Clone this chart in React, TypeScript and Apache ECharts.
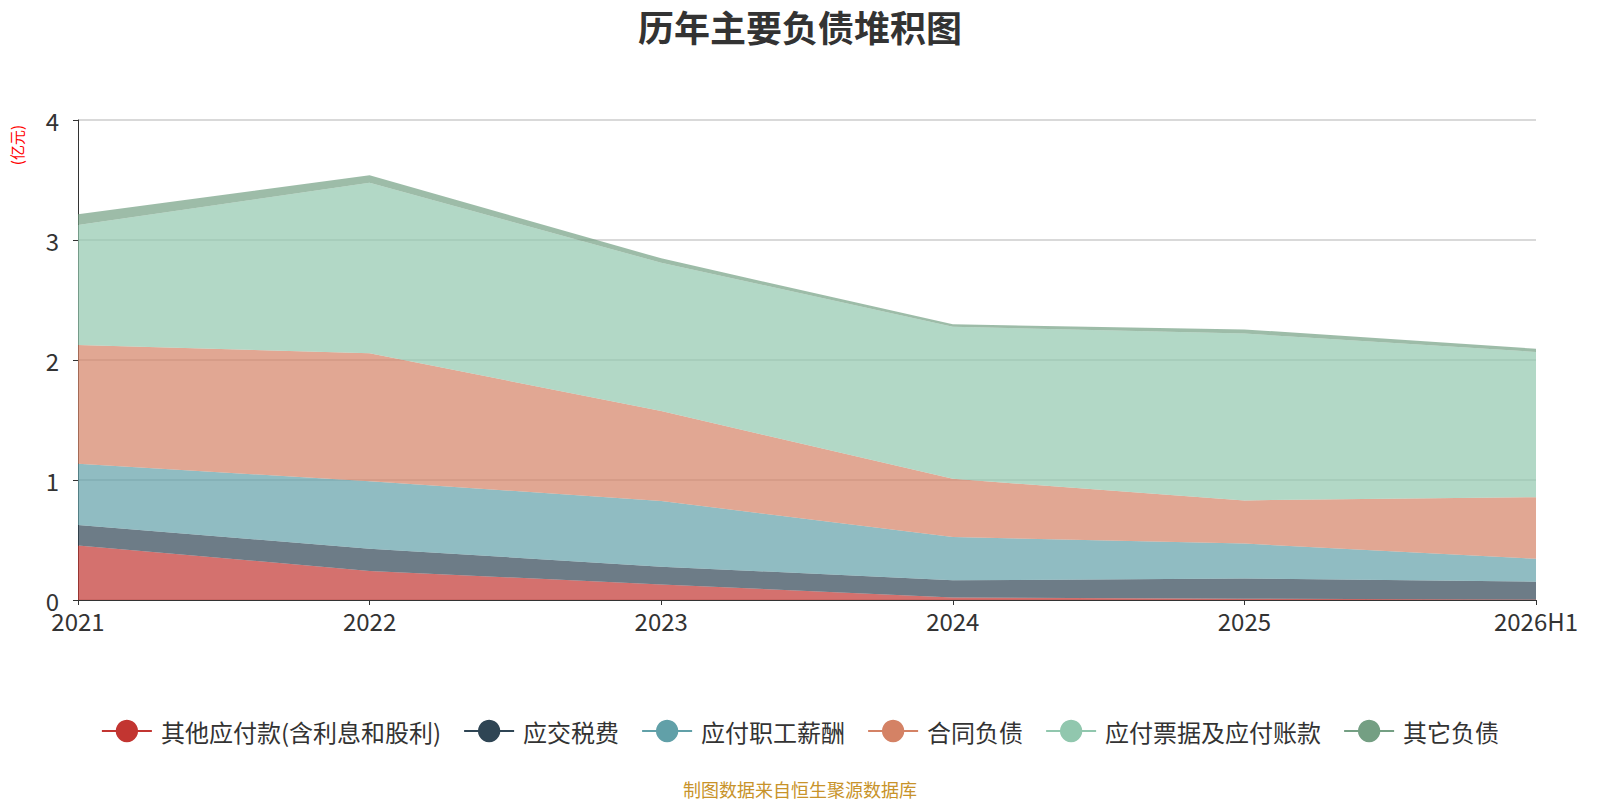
import React, { useEffect, useRef } from "react";
import * as echarts from "echarts";

const categories = ["2021", "2022", "2023", "2024", "2025", "2026H1"];
const seriesNames = [
  "其他应付款(含利息和股利)",
  "应交税费",
  "应付职工薪酬",
  "合同负债",
  "应付票据及应付账款",
  "其它负债",
];
const otherPayables = [0.455, 0.242, 0.13, 0.02, 0.01, 0.005];
const taxesPayable = [0.17, 0.186, 0.148, 0.144, 0.17, 0.148];
const payrollPayable = [0.51, 0.562, 0.547, 0.361, 0.29, 0.19];
const contractLiabilities = [0.99, 1.066, 0.75, 0.485, 0.36, 0.514];
const notesAccountsPayable = [1.0, 1.422, 1.235, 1.268, 1.39, 1.21];
const otherLiabilities = [0.09, 0.062, 0.037, 0.019, 0.035, 0.027];
const yTicks = [0, 1, 2, 3, 4];
const colors = ["#c23531", "#2f4554", "#61a0a8", "#d48265", "#91c7ae", "#749f83"];

const FONT = '"Noto Sans CJK SC", "Noto Sans", sans-serif';

export default function App() {
  const ref = useRef<HTMLDivElement>(null);
  useEffect(() => {
    if (!ref.current) return;
    const chart = echarts.init(ref.current, null, { renderer: "svg" });
    const values = [
      otherPayables,
      taxesPayable,
      payrollPayable,
      contractLiabilities,
      notesAccountsPayable,
      otherLiabilities,
    ];
    chart.setOption({
      animation: false,
      color: colors,
      textStyle: { fontFamily: FONT },
      title: {
        text: "历年主要负债堆积图",
        left: "center",
        top: 0,
        padding: 0,
        textStyle: { fontSize: 36, fontWeight: "bold", color: "#333", fontFamily: FONT },
      },
      grid: { left: 70, right: 56, top: 112, bottom: 208, containLabel: false },
      legend: {
        top: 706,
        left: "center",
        itemWidth: 50,
        itemHeight: 28,
        itemGap: 22,
        lineStyle: { width: 2 },
        textStyle: { fontSize: 24, color: "#333", fontFamily: FONT, padding: [0, 0, 0, 4] },
        data: seriesNames,
      },
      xAxis: {
        type: "category",
        boundaryGap: false,
        data: categories,
        axisLine: { lineStyle: { color: "#333" } },
        axisTick: { lineStyle: { color: "#333" } },
        axisLabel: { fontSize: 24, color: "#333", margin: 8, fontFamily: FONT },
      },
      yAxis: {
        type: "value",
        min: yTicks[0],
        max: yTicks[yTicks.length - 1],
        interval: 1,
        axisLine: { show: true, lineStyle: { color: "#333" } },
        axisTick: { show: true, lineStyle: { color: "#333" } },
        axisLabel: { fontSize: 24, color: "#333", margin: 19, fontFamily: FONT },
        splitLine: { lineStyle: { color: "#ccc", width: 1.5 } },
      },
      graphic: [
        {
          type: "text",
          x: 1,
          y: 117,
          rotation: Math.PI / 2,
          style: {
            text: "(亿元)",
            fill: "#ff0000",
            fontSize: 15,
            fontFamily: FONT,
            align: "right",
            verticalAlign: "top",
            textAlign: "right",
            textVerticalAlign: "top",
          },
        },
        {
          type: "text",
          left: "center",
          top: 772,
          style: {
            text: "制图数据来自恒生聚源数据库",
            fill: "#c8932a",
            fontSize: 18,
            fontFamily: FONT,
          },
        },
      ],
      series: seriesNames.map((name, i) => ({
        name,
        type: "line",
        stack: "total",
        data: values[i],
        showSymbol: false,
        symbol: "circle",
        lineStyle: { width: 0 },
        areaStyle: { opacity: 0.7 },
        itemStyle: { color: colors[i] },
      })),
    });
    return () => chart.dispose();
  }, []);
  return <div ref={ref} style={{ width: "100%", height: 800 }} />;
}
